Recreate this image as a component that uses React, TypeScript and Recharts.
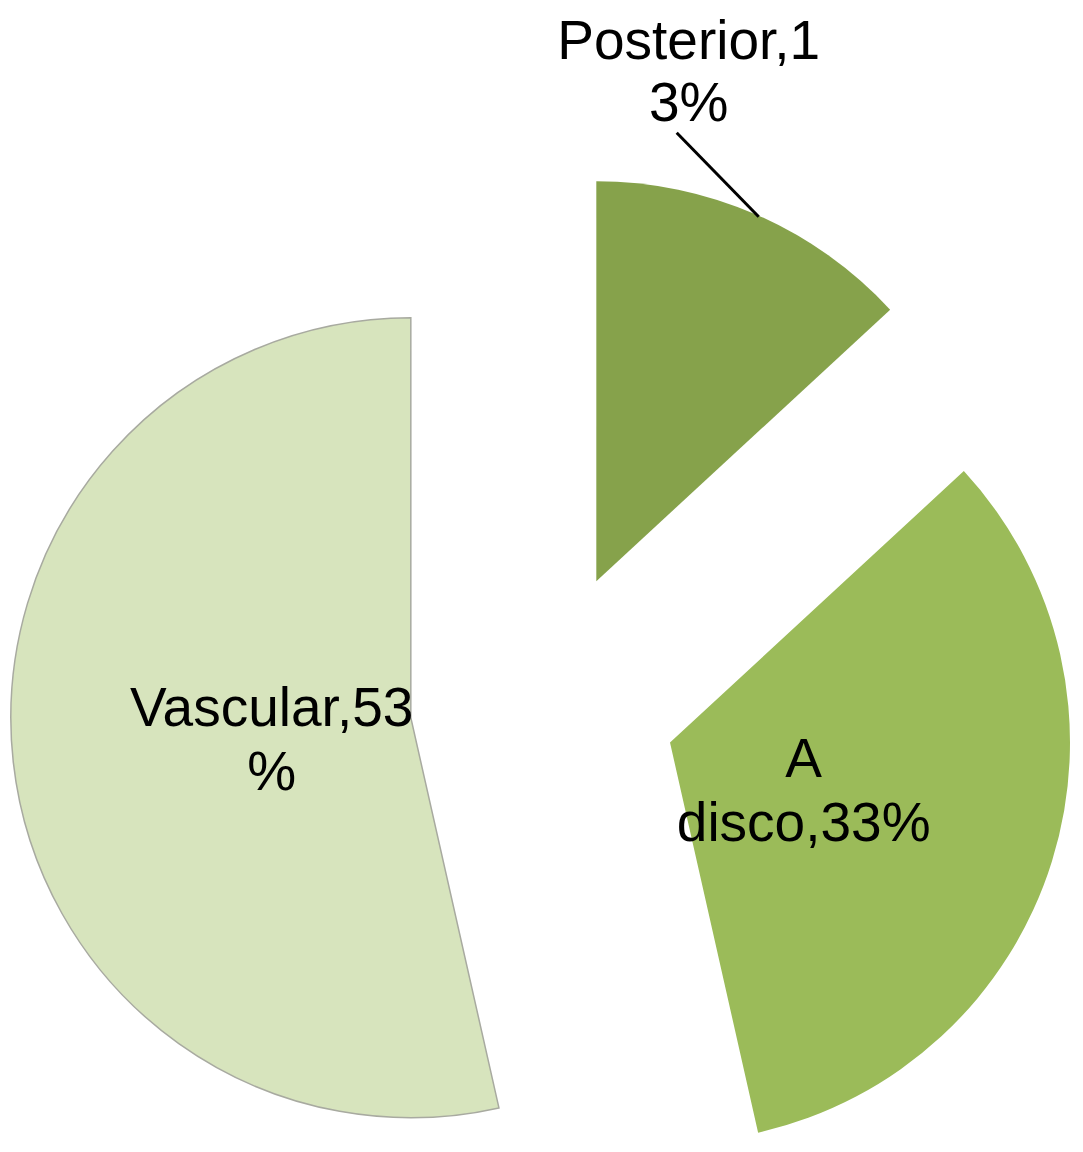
import { PieChart, Pie, Cell, Sector } from 'recharts';

const categories = ['Posterior', 'A disco', 'Vascular'];
const shares = [13, 33, 53];
const labelLines = [['Posterior,1', '3%'], ['A', 'disco,33%'], ['Vascular,53', '%']];

const colors = ['#86A24B', '#9BBB59', '#D7E4BD'];
const strokes = ['none', 'none', '#A8AAA0'];

const data = categories.map((name, i) => ({ name, value: shares[i] }));

const RAD = Math.PI / 180;
const EXPLODE = 133;

// push each slice out along its own bisector
const ExplodedSector = (props: any) => {
    const { cx, cy, midAngle } = props;
    const dx = EXPLODE * Math.cos(-midAngle * RAD);
    const dy = EXPLODE * Math.sin(-midAngle * RAD);
    return <Sector {...props} cx={cx + dx} cy={cy + dy} />;
};

const SliceLabel = (props: any) => {
    const { cx, cy, midAngle, outerRadius, index } = props;
    const cos = Math.cos(-midAngle * RAD);
    const sin = Math.sin(-midAngle * RAD);
    const lines = labelLines[index];
    const textStyle = { fontFamily: 'Liberation Sans, Arial, sans-serif', fontSize: 55, fill: '#000' };

    if (index === 0) {
        // outside label with a leader line from the arc
        const ax = cx + (EXPLODE + outerRadius) * cos;
        const ay = cy + (EXPLODE + outerRadius) * sin;
        const ex = ax - 80;
        const ey = ay - 82;
        return (
            <g>
                <line x1={ax + 2} y1={ay + 2} x2={ex} y2={ey} stroke="#000" strokeWidth={3} />
                <text x={ex + 12} y={ey - 74} textAnchor="middle" {...textStyle}>{lines[0]}</text>
                <text x={ex + 12} y={ey - 12} textAnchor="middle" {...textStyle}>{lines[1]}</text>
            </g>
        );
    }
    const r = EXPLODE + outerRadius * 0.35;
    const lx = cx + r * cos;
    const ly = cy + r * sin;
    return (
        <g>
            <text x={lx} y={ly - 7} textAnchor="middle" {...textStyle}>{lines[0]}</text>
            <text x={lx} y={ly + 57} textAnchor="middle" {...textStyle}>{lines[1]}</text>
        </g>
    );
};

const App = () => {
    return (
        <div style={{ background: '#fff' }}>
            <PieChart width={1075} height={1144} margin={{ top: 0, right: 0, bottom: 0, left: 0 }}>
                <Pie
                    data={data}
                    dataKey="value"
                    nameKey="name"
                    cx={535}
                    cy={695}
                    outerRadius={400}
                    startAngle={90}
                    endAngle={-270}
                    isAnimationActive={false}
                    labelLine={false}
                    label={SliceLabel}
                    shape={ExplodedSector}
                    activeShape={ExplodedSector}
                    inactiveShape={ExplodedSector}
                >
                    {data.map((d, i) => (
                        <Cell key={d.name} fill={colors[i]} stroke={strokes[i]} strokeWidth={1.5} />
                    ))}
                </Pie>
            </PieChart>
        </div>
    );
};

export default App;
